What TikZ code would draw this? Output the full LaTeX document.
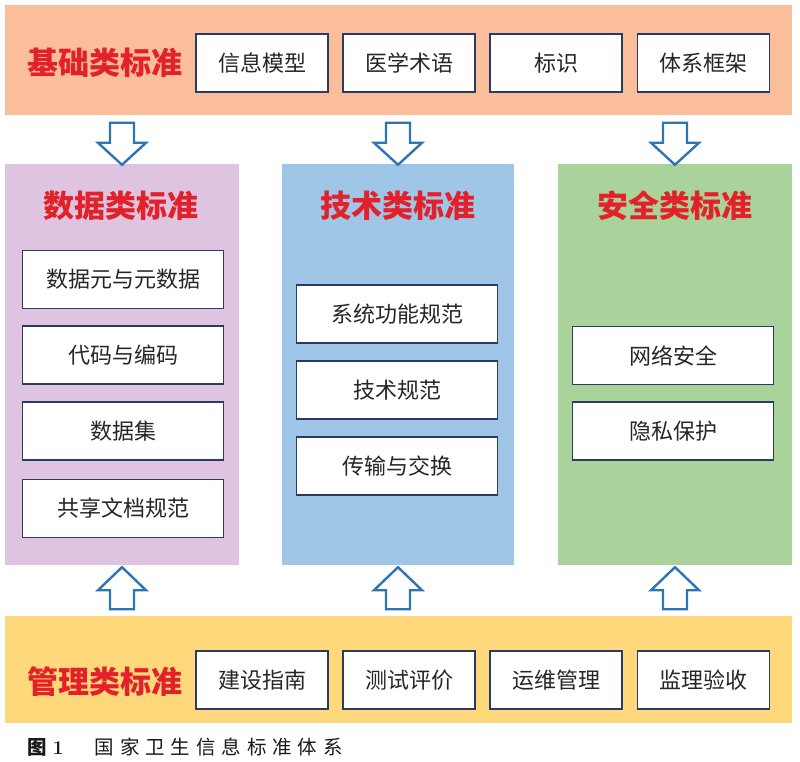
\documentclass[tikz,border=0pt]{standalone}
\usepackage{fontspec}
\newfontfamily\cjk{Noto Sans CJK SC}
\usetikzlibrary{positioning,calc}

\definecolor{basecol}{HTML}{FBBE9B}
\definecolor{mgmtcol}{HTML}{FFD87C}
\definecolor{datacol}{HTML}{DEC4E0}
\definecolor{techcol}{HTML}{9FC6E6}
\definecolor{safecol}{HTML}{A9D39A}
\definecolor{titlered}{HTML}{E3212B}
\definecolor{boxline}{HTML}{2D3A66}
\definecolor{arrowblue}{HTML}{2E75B6}

\tikzset{
  band/.style={fill=#1, draw=none, inner sep=0pt},
  item/.style={draw=boxline, line width=1.6pt, fill=white, inner sep=0pt,
    minimum width=132pt, minimum height=58pt,
    font=\cjk\fontsize{22}{22}\selectfont, text=black!85},
  colitem/.style={item, minimum width=201pt},
  heading/.style={font=\cjk\bfseries\fontsize{31}{31}\selectfont, text=titlered},
  hollow/.style={draw=arrowblue, line width=2.4pt, fill=white, line join=miter}
}

\begin{document}
\begin{tikzpicture}[x=1pt,y=-1pt]
\useasboundingbox (0,0) rectangle (800,762);

% bands and columns
\node[band=basecol, minimum width=787pt, minimum height=110pt] (base) at (398.5,60) {};
\node[band=mgmtcol, minimum width=787pt, minimum height=107pt] (mgmt) at (398.5,669.5) {};
\node[band=datacol, minimum width=234pt, minimum height=401pt] (data) at (122,364.5) {};
\node[band=techcol, minimum width=232pt, minimum height=401pt] (tech) at (398,364.5) {};
\node[band=safecol, minimum width=234pt, minimum height=401pt] (safe) at (675,364.5) {};

% headings
\node[heading] (baseh) at (105,63) {基础类标准};
\node[heading] (mgmth) at (105,682) {管理类标准};
\node[heading] (datah) at (121,206) {数据类标准};
\node[heading] (techh) at (398,206) {技术类标准};
\node[heading] (safeh) at (675,206) {安全类标准};

% top row
\node[item] (b1) at (262,63) {信息模型};
\node[item, right=13.5pt of b1] (b2) {医学术语};
\node[item, right=13.5pt of b2] (b3) {标识};
\node[item, right=13.5pt of b3] (b4) {体系框架};

% bottom row
\node[item] (m1) at (262,680) {建设指南};
\node[item, right=13.5pt of m1] (m2) {测试评价};
\node[item, right=13.5pt of m2] (m3) {运维管理};
\node[item, right=13.5pt of m3] (m4) {监理验收};

% data column
\node[colitem] (d1) at (123,279.5) {数据元与元数据};
\node[colitem, below=16pt of d1] (d2) {代码与编码};
\node[colitem, below=16pt of d2] (d3) {数据集};
\node[colitem, below=18pt of d3] (d4) {共享文档规范};

% tech column
\node[colitem] (t1) at (397,314) {系统功能规范};
\node[colitem, below=16.5pt of t1] (t2) {技术规范};
\node[colitem, below=16.5pt of t2] (t3) {传输与交换};

% safe column
\node[colitem] (s1) at (673,355.5) {网络安全};
\node[colitem, below=16pt of s1] (s2) {隐私保护};

% hollow arrows
\foreach \col in {data,tech,safe}{
  \draw[hollow] ($(\col.north)+(-12,-41)$) -- ++(24,0) -- ++(0,20) -- ++(12,0)
    -- ($(\col.north)+(0,1)$) -- ++(-24,-22) -- ++(12,0) -- cycle;
  \draw[hollow] ($(\col.south)+(-12,44)$) -- ++(24,0) -- ++(0,-19) -- ++(12,0)
    -- ($(\col.south)+(0,2)$) -- ++(-24,23) -- ++(12,0) -- cycle;
}

% caption
\node[anchor=west, inner sep=0pt, font=\cjk\fontsize{19.5}{19.5}\selectfont, text=black!90] (cap) at (27,747)
  {\textbf{图}\hspace{6pt}{\rmfamily\bfseries 1}\hspace{31pt}\foreach \c in {国,家,卫,生,信,息,标,准,体,系}{\c\hspace{5.9pt}}};
\end{tikzpicture}
\end{document}
